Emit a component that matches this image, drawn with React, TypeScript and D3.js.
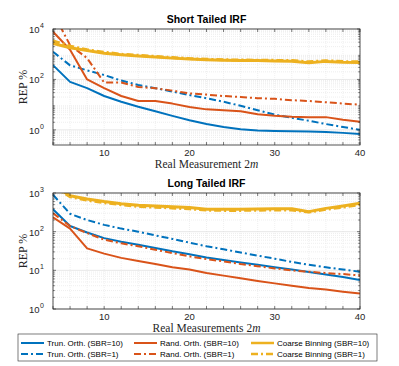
import * as d3 from "d3";

// x positions: 2m
const xs = [4, 6, 8, 10, 12, 14, 16, 18, 20, 22, 24, 26, 28, 30, 32, 34, 36, 38, 40];

// Short tailed IRF
const shortTrun10 = [370, 80, 45, 22, 13, 8.3, 5.5, 3.6, 2.4, 1.7, 1.3, 1.05, 0.95, 0.9, 0.88, 0.86, 0.82, 0.76, 0.68];
const shortTrun1 = [1250, 360, 230, 150, 90, 60, 45, 33, 24, 18, 13, 9, 6, 4, 3, 2.3, 1.7, 1.3, 1.0];
const shortRand10 = [7800, 1500, 100, 45, 22, 14, 14, 11, 8, 6.5, 6, 5.5, 4.2, 3.6, 3.3, 3.2, 3.2, 2.5, 2.1];
const shortRand1 = [45000, 2300, 700, 75, 75, 50, 45, 36, 28, 25, 22, 20, 18, 17, 15, 14, 12.5, 11, 10];
const shortCoarse10 = [2700, 1800, 1400, 1100, 950, 850, 780, 700, 640, 600, 580, 560, 560, 540, 530, 460, 520, 480, 470];
const shortCoarse1 = [3400, 2100, 1500, 1200, 1000, 900, 820, 740, 670, 630, 600, 590, 580, 570, 560, 500, 550, 510, 500];

// Long tailed IRF
const longTrun10 = [380, 140, 95, 68, 55, 46, 38, 31, 26, 21.5, 18.5, 16, 14, 12, 10.5, 9, 7.8, 6.7, 5.6];
const longTrun1 = [900, 290, 200, 150, 120, 100, 80, 65, 52, 42, 35, 29, 24, 20, 16.5, 14, 12, 10.5, 9.2];
const longRand10 = [235, 120, 37, 27, 21, 17.5, 14.5, 12, 10.5, 8.5, 7.3, 6.2, 5.3, 4.6, 4, 3.5, 3.2, 2.8, 2.5];
const longRand1 = [300, 140, 92, 62, 50, 42, 34, 28, 23, 19.5, 17, 14.5, 12.8, 11.2, 10, 9.2, 8.5, 8, 7.4];
const longCoarse10 = [1600, 850, 700, 600, 530, 480, 460, 440, 420, 380, 380, 380, 385, 390, 390, 330, 400, 460, 540];
const longCoarse1 = [1500, 800, 650, 560, 500, 450, 430, 410, 390, 360, 355, 355, 360, 365, 365, 320, 380, 430, 500];

const xTickLabels = [10, 20, 30, 40];
const legendLabels = [
  "Trun. Orth. (SBR=10)",
  "Rand. Orth. (SBR=10)",
  "Coarse Binning (SBR=10)",
  "Trun. Orth. (SBR=1)",
  "Rand. Orth. (SBR=1)",
  "Coarse Binning (SBR=1)",
];

const BLUE = "#0072BD";
const RED = "#D95319";
const YELLOW = "#EDB120";
const DASHDOT = "7,3,2,3";
const SANS = "'Liberation Sans', Arial, sans-serif";
const SERIF = "'Liberation Serif', 'Times New Roman', serif";

type Series = { values: number[]; color: string; dashed: boolean; width: number };

function Panel({
  id,
  top,
  bottom,
  domain,
  decades,
  title,
  xlabel,
  series,
}: {
  id: string;
  top: number;
  bottom: number;
  domain: [number, number];
  decades: number[];
  title: string;
  xlabel: string;
  series: Series[];
}) {
  const left = 53;
  const right = 360;
  const x = d3.scaleLinear().domain([4, 40]).range([left, right]);
  const y = d3.scaleLog().domain(domain).range([bottom, top]);

  const minorY: number[] = [];
  for (let e = -1; e <= 4; e++) {
    for (let k = 2; k <= 9; k++) {
      const v = k * Math.pow(10, e);
      if (v > domain[0] && v < domain[1]) minorY.push(v);
    }
  }
  const xTicks = d3.range(4, 41, 2);

  const line = d3
    .line<number>()
    .x((_, i) => x(xs[i]))
    .y((d) => y(d));

  return (
    <g>
      <defs>
        <clipPath id={id}>
          <rect x={left} y={top} width={right - left} height={bottom - top} />
        </clipPath>
      </defs>
      {/* grid */}
      {minorY.map((v) => (
        <line key={"my" + v} x1={left} x2={right} y1={y(v)} y2={y(v)} stroke="#e3e3e3" strokeWidth={0.6} strokeDasharray="1,1" />
      ))}
      {xTicks.map((v) => (
        <line key={"gx" + v} x1={x(v)} x2={x(v)} y1={top} y2={bottom} stroke="#e6e6e6" strokeWidth={0.6} strokeDasharray="1,1" />
      ))}
      {decades.map((v) => (
        <line key={"gy" + v} x1={left} x2={right} y1={y(v)} y2={y(v)} stroke="#dedede" strokeWidth={0.7} />
      ))}
      {/* lines */}
      <g clipPath={`url(#${id})`}>
        {series.map((s, i) => (
          <path
            key={i}
            d={line(s.values) || ""}
            fill="none"
            stroke={s.color}
            strokeWidth={s.width}
            strokeDasharray={s.dashed ? DASHDOT : undefined}
            strokeLinejoin="round"
          />
        ))}
      </g>
      {/* box */}
      <rect x={left} y={top} width={right - left} height={bottom - top} fill="none" stroke="#262626" strokeWidth={0.8} />
      {xTicks.map((v) => (
        <g key={"tx" + v} stroke="#262626" strokeWidth={0.6}>
          <line x1={x(v)} x2={x(v)} y1={bottom} y2={bottom - 3} />
          <line x1={x(v)} x2={x(v)} y1={top} y2={top + 3} />
        </g>
      ))}
      {[...decades, ...minorY].map((v) => (
        <g key={"ty" + v} stroke="#262626" strokeWidth={0.6}>
          <line x1={left} x2={left + (decades.includes(v) ? 3 : 1.8)} y1={y(v)} y2={y(v)} />
          <line x1={right} x2={right - (decades.includes(v) ? 3 : 1.8)} y1={y(v)} y2={y(v)} />
        </g>
      ))}
      {xTickLabels.map((v) => (
        <text key={"lx" + v} x={x(v)} y={bottom + 11} textAnchor="middle" fontFamily={SANS} fontSize={9.5} fill="#262626">
          {v}
        </text>
      ))}
      {decades.map((v) => (
        <text key={"ly" + v} x={left - 9} y={y(v) + 4} textAnchor="end" fontFamily={SANS} fontSize={9.5} fill="#262626">
          10
          <tspan dx={0.5} dy={-5} fontSize={7}>
            {Math.round(Math.log10(v))}
          </tspan>
        </text>
      ))}
      <text x={(left + right) / 2} y={top - 6} textAnchor="middle" fontFamily={SANS} fontWeight="bold" fontSize={10.5} fill="#000">
        {title}
      </text>
      <text x={(left + right) / 2} y={bottom + 23} textAnchor="middle" fontFamily={SERIF} fontSize={11.5} fill="#262626">
        {xlabel} 2<tspan fontStyle="italic">m</tspan>
      </text>
      <text
        transform={`translate(27,${(top + bottom) / 2}) rotate(-90)`}
        textAnchor="middle"
        fontFamily={SERIF}
        fontSize={12}
        fill="#262626"
      >
        REP %
      </text>
    </g>
  );
}

export default function App() {
  const mk = (vals: number[][]): Series[] => [
    { values: vals[0], color: BLUE, dashed: false, width: 2 },
    { values: vals[1], color: BLUE, dashed: true, width: 2 },
    { values: vals[2], color: RED, dashed: false, width: 2 },
    { values: vals[3], color: RED, dashed: true, width: 2 },
    { values: vals[4], color: YELLOW, dashed: false, width: 3 },
    { values: vals[5], color: YELLOW, dashed: true, width: 3 },
  ];
  const shortSeries = mk([shortTrun10, shortTrun1, shortRand10, shortRand1, shortCoarse10, shortCoarse1]);
  const longSeries = mk([longTrun10, longTrun1, longRand10, longRand1, longCoarse10, longCoarse1]);

  const legCols = [21, 134, 251];
  const legRows = [343, 354];
  const legColors = [BLUE, RED, YELLOW];

  return (
    <svg width={399} height={366} style={{ position: "absolute", left: 0, top: 0, background: "#fff" }}>
      <rect width={399} height={366} fill="#fff" />
      <Panel
        id="clipShort"
        top={29}
        bottom={145}
        domain={[Math.pow(10, -0.6), 1e4]}
        decades={[1, 100, 10000]}
        title="Short Tailed IRF"
        xlabel="Real Measurement"
        series={shortSeries}
      />
      <Panel
        id="clipLong"
        top={193}
        bottom={309}
        domain={[1, 1000]}
        decades={[1, 10, 100, 1000]}
        title="Long Tailed IRF"
        xlabel="Real Measurements"
        series={longSeries}
      />
      {/* legend */}
      <rect x={18} y={334} width={359} height={27} fill="#fff" stroke="#262626" strokeWidth={0.6} />
      {legendLabels.map((lab, i) => {
        const col = i % 3;
        const row = Math.floor(i / 3);
        const lx = legCols[col];
        const ly = legRows[row];
        return (
          <g key={lab}>
            <line
              x1={lx}
              x2={lx + 23}
              y1={ly}
              y2={ly}
              stroke={legColors[col]}
              strokeWidth={col === 2 ? 2.5 : 2}
              strokeDasharray={row === 1 ? DASHDOT : undefined}
            />
            <text x={lx + 26} y={ly + 3} fontFamily={SANS} fontSize={8} fill="#000">
              {lab}
            </text>
          </g>
        );
      })}
    </svg>
  );
}
